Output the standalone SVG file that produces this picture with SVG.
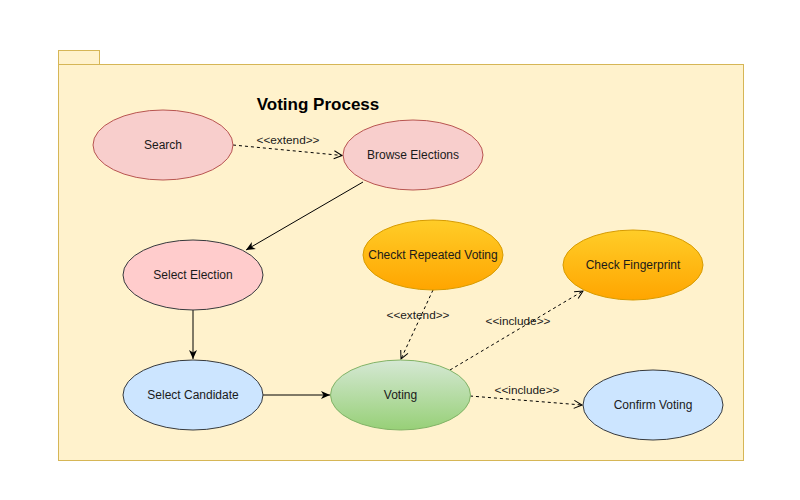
<svg xmlns="http://www.w3.org/2000/svg" width="800" height="500" viewBox="0 0 800 500">
<style>
text{font-family:"Liberation Sans",Arial,sans-serif;font-size:12px;fill:#1a1a1a;text-anchor:middle;dominant-baseline:central}
.lbl{font-size:11.8px}
.title{font-size:17px;font-weight:bold;fill:#000}
.pink{fill:#f8cecc;stroke:#b85450}
.pink2{fill:#ffcccc;stroke:#36393d}
.blue{fill:#cce5ff;stroke:#36393d}
.green{fill:url(#gg);stroke:#82b366}
.orange{fill:url(#go);stroke:#d79b00}
.solid{fill:none;stroke:#000;stroke-width:1}
.dash{fill:none;stroke:#000;stroke-width:1;stroke-dasharray:3 3}
</style>
<defs>
<linearGradient id="gg" x1="0" y1="0" x2="0" y2="1"><stop offset="0" stop-color="#d5e8d4"/><stop offset="1" stop-color="#97d077"/></linearGradient>
<linearGradient id="go" x1="0" y1="0" x2="0" y2="1"><stop offset="0" stop-color="#ffcd28"/><stop offset="1" stop-color="#ffa500"/></linearGradient>
<marker id="fill" viewBox="0 0 10 10" refX="9" refY="5" markerWidth="10" markerHeight="10" markerUnits="userSpaceOnUse" orient="auto"><path d="M0,1 L9,5 L0,9 L2.5,5 Z" fill="#000"/></marker>
<marker id="open" viewBox="0 0 10 10" refX="9" refY="5" markerWidth="10" markerHeight="10" markerUnits="userSpaceOnUse" orient="auto"><path d="M1,1 L9,5 L1,9" fill="none" stroke="#000" stroke-width="1"/></marker>
</defs>
<g id="package">
<rect x="58.5" y="50.5" width="41" height="14" fill="#fff2cc" stroke="#d6b656"/>
<rect x="58.5" y="64.5" width="685" height="396" fill="#fff2cc" stroke="#d6b656"/>
<text class="title" x="318" y="104">Voting Process</text>
</g>
<g id="connectors">
<line class="dash" x1="233" y1="145" x2="342" y2="155.5" marker-end="url(#open)"/>
<text class="lbl" x="288" y="140">&lt;&lt;extend&gt;&gt;</text>
<line class="solid" x1="363" y1="182" x2="246" y2="250" marker-end="url(#fill)"/>
<line class="solid" x1="193" y1="310" x2="193" y2="359" marker-end="url(#fill)"/>
<line class="solid" x1="263" y1="395" x2="330" y2="395" marker-end="url(#fill)"/>
<line class="dash" x1="433" y1="290" x2="401" y2="359" marker-end="url(#open)"/>
<text class="lbl" x="418" y="315">&lt;&lt;extend&gt;&gt;</text>
<line class="dash" x1="450" y1="370" x2="583" y2="291" marker-end="url(#open)"/>
<text class="lbl" x="518" y="321">&lt;&lt;include&gt;&gt;</text>
<line class="dash" x1="470" y1="396" x2="582" y2="405" marker-end="url(#open)"/>
<text class="lbl" x="527" y="390">&lt;&lt;include&gt;&gt;</text>
</g>
<g id="search"><ellipse class="pink" cx="163" cy="145" rx="70" ry="35"/><text x="163" y="145">Search</text></g>
<g id="browse"><ellipse class="pink" cx="413" cy="155" rx="70" ry="35"/><text x="413" y="155">Browse Elections</text></g>
<g id="selectElection"><ellipse class="pink2" cx="193" cy="275" rx="70" ry="35"/><text x="193" y="275">Select Election</text></g>
<g id="selectCandidate"><ellipse class="blue" cx="193" cy="395" rx="70" ry="35"/><text x="193" y="395">Select Candidate</text></g>
<g id="voting"><ellipse class="green" cx="400.5" cy="395" rx="70" ry="35"/><text x="400.5" y="395">Voting</text></g>
<g id="checkRepeated"><ellipse class="orange" cx="433" cy="255" rx="70" ry="35"/><text x="433" y="255">Checkt Repeated Voting</text></g>
<g id="checkFingerprint"><ellipse class="orange" cx="633" cy="265" rx="70" ry="35"/><text x="633" y="265">Check Fingerprint</text></g>
<g id="confirmVoting"><ellipse class="blue" cx="653" cy="405" rx="70" ry="35"/><text x="653" y="405">Confirm Voting</text></g>
</svg>
